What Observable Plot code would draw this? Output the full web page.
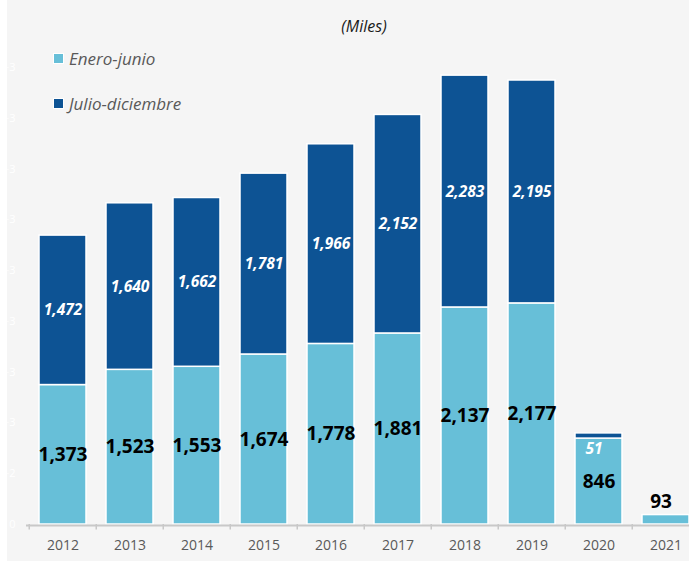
<!DOCTYPE html>
<html>
<head>
<meta charset="utf-8">
<script src="https://cdn.jsdelivr.net/npm/d3@7"></script>
<script src="https://cdn.jsdelivr.net/npm/@observablehq/plot@0.6"></script>
<style>
  html, body { margin: 0; padding: 0; background: #ffffff; }
  #wrap { position: relative; width: 689px; height: 561px; overflow: hidden; font-family: "Open Sans", sans-serif; }
  #wrap svg { display: block; }
  .title { position: absolute; left: 0; width: 728px; top: 15px; text-align: center; font-size: 16px; font-style: italic; color: #1a1a1a; }
  .leg { position: absolute; left: 53px; display: flex; align-items: center; font-size: 17px; font-style: italic; color: #595959; }
  .leg .sw { width: 9px; height: 9px; border: 1px solid #ffffff; margin-right: 5px; }
</style>
</head>
<body>
<div id="wrap"></div>
<script>
const years = ["2012","2013","2014","2015","2016","2017","2018","2019","2020","2021"];
const seriesNames = ["Enero-junio","Julio-diciembre"];
const eneroJunio = [1373,1523,1553,1674,1778,1881,2137,2177,846,93];
const julioDiciembre = [1472,1640,1662,1781,1966,2152,2283,2195,51,null];
const yTicks = [0,500,1000,1500,2000,2500,3000,3500,4000,4500];
const colors = ["#67bfd8","#0d5394"];
const titleText = "(Miles)";

const fmt = d3.format(",");
const rows = [];
years.forEach((y,i) => rows.push({year:y, series:seriesNames[0], value:eneroJunio[i], base:0}));
years.forEach((y,i) => { if (julioDiciembre[i] != null) rows.push({year:y, series:seriesNames[1], value:julioDiciembre[i], base:eneroJunio[i]}); });
rows.forEach(r => r.mid = r.base + r.value/2);

const eneroIn = rows.filter(r => r.series === seriesNames[0] && r.year !== "2021");
const eneroOut = rows.filter(r => r.series === seriesNames[0] && r.year === "2021");
const julioIn = rows.filter(r => r.series === seriesNames[1] && r.year !== "2020");
const julioOut = rows.filter(r => r.series === seriesNames[1] && r.year === "2020");

const W = 689, H = 561;
const bandStep = (701 - 26) / years.length;

const chart = Plot.plot({
  width: W, height: H,
  marginLeft: 26, marginRight: 0, marginTop: 0, marginBottom: 36,
  style: { fontFamily: "Open Sans", background: "linear-gradient(to right, #ffffff 7px, #f5f5f5 7px)", overflow: "hidden" },
  x: { domain: years, range: [26, 701], paddingInner: 0.3, paddingOuter: 0.15, label: null },
  y: { domain: [0, 4500], range: [524, 67], label: null },
  color: { domain: seriesNames, range: colors },
  marks: [
    Plot.axisY({ ticks: yTicks, tickSize: 0, tickPadding: 11, tickFormat: ",", fill: "#ffffff", fontSize: 11, label: null }),
    Plot.barY(rows, Plot.stackY({ x: "year", y: "value", z: "series", fill: "series", stroke: "#ffffff", strokeWidth: 1.5 })),
    Plot.ruleY([0], { stroke: "#c8c8c8", strokeWidth: 2, dy: 1 }),
    Plot.ruleX(years, { x: d => d, y1: 0, y2: -55, dx: -bandStep/2, stroke: "#c8c8c8", strokeWidth: 1.5 }),
    Plot.axisX({ tickSize: 0, tickPadding: 15, fill: "#595959", fontSize: 14, label: null }),
    Plot.text(eneroIn, { x: "year", y: "mid", text: d => fmt(d.value), fill: "#000000", fontSize: 19, fontWeight: "bold" }),
    Plot.text(eneroOut, { x: "year", y: "value", text: d => fmt(d.value), fill: "#000000", fontSize: 19, fontWeight: "bold", dy: -13, dx: -5 }),
    Plot.text(julioIn, { x: "year", y: "mid", text: d => fmt(d.value), fill: "#ffffff", fontSize: 15.5, fontWeight: "bold", fontStyle: "italic" }),
    Plot.text(julioOut, { x: "year", y: "mid", text: d => fmt(d.value), fill: "#ffffff", fontSize: 15.5, fontWeight: "bold", fontStyle: "italic", dy: 13, dx: -5 })
  ]
});

const wrap = document.getElementById("wrap");
wrap.appendChild(chart);

const t = document.createElement("div");
t.className = "title";
t.textContent = titleText;
wrap.appendChild(t);

const legTops = [47, 92];
seriesNames.forEach((s, i) => {
  const d = document.createElement("div");
  d.className = "leg";
  d.style.top = legTops[i] + "px";
  const sw = document.createElement("span");
  sw.className = "sw";
  sw.style.background = colors[i];
  const tx = document.createElement("span");
  tx.textContent = s;
  d.appendChild(sw); d.appendChild(tx);
  wrap.appendChild(d);
});
</script>
</body>
</html>
